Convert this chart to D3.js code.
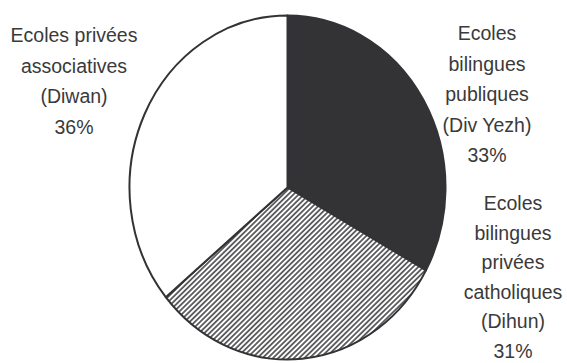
<html>
    <head>
        <style>
            body { margin: 0; background: #fff; }
            text { font-family: "Liberation Sans", Arial, sans-serif; fill: #3a3a3a; }
        </style>
    </head>
    <body>
        <div id="chart"></div>
        <script src="https://d3js.org/d3.v7.min.js"></script>
        <script>
            const categories = ['Div Yezh', 'Dihun', 'Diwan'];
            const shares = [33, 31, 36];
            const labels = [
                ['Ecoles', 'bilingues', 'publiques', '(Div Yezh)', '33%'],
                ['Ecoles', 'bilingues', 'privées', 'catholiques', '(Dihun)', '31%'],
                ['Ecoles privées', 'associatives', '(Diwan)', '36%']
            ];

            const width = 567, height = 363;
            const cx = 287.5, cy = 187.5, rx = 158, ry = 172;

            const svg = d3.select('#chart')
                .append('svg')
                .attr('width', width)
                .attr('height', height);

            // diagonal hatch for the catholic schools slice
            svg.append('defs')
                .append('pattern')
                .attr('id', 'hatch')
                .attr('patternUnits', 'userSpaceOnUse')
                .attr('width', 3.5)
                .attr('height', 3.5)
                .attr('patternTransform', 'rotate(-42)')
                .call(p => p.append('rect')
                    .attr('width', 3.5).attr('height', 3.5).attr('fill', '#fff'))
                .append('line')
                .attr('x1', 0).attr('x2', 3.5)
                .attr('y1', 1.75).attr('y2', 1.75)
                .attr('stroke', '#333336')
                .attr('stroke-width', 1.4);

            const fills = ['#333336', 'url(#hatch)', '#fff'];

            const pie = d3.pie().sort(null).value(d => d);
            const arc = d3.arc().innerRadius(0).outerRadius(rx);

            const g = svg.append('g')
                .attr('transform', `translate(${cx},${cy}) scale(1,${ry / rx})`);

            g.selectAll('path')
                .data(pie(shares))
                .enter()
                .append('path')
                .attr('d', arc)
                .attr('fill', (d, i) => fills[i])
                .attr('stroke', '#333336')
                .attr('stroke-width', 2)
                .attr('vector-effect', 'non-scaling-stroke')
                .attr('stroke-linejoin', 'round');

            // label positions: centre x, first baseline, line gap
            const labelPos = [
                { x: 487, y: 40, gap: 30.5 },
                { x: 513, y: 210, gap: 29.6 },
                { x: 74, y: 42, gap: 30.5 }
            ];

            labels.forEach((lines, i) => {
                const t = svg.append('text')
                    .attr('text-anchor', 'middle')
                    .style('font-size', '19.5px');
                lines.forEach((s, j) => {
                    t.append('tspan')
                        .attr('x', labelPos[i].x)
                        .attr('y', labelPos[i].y + j * labelPos[i].gap)
                        .text(s);
                });
            });
        </script>
    </body>
</html>
